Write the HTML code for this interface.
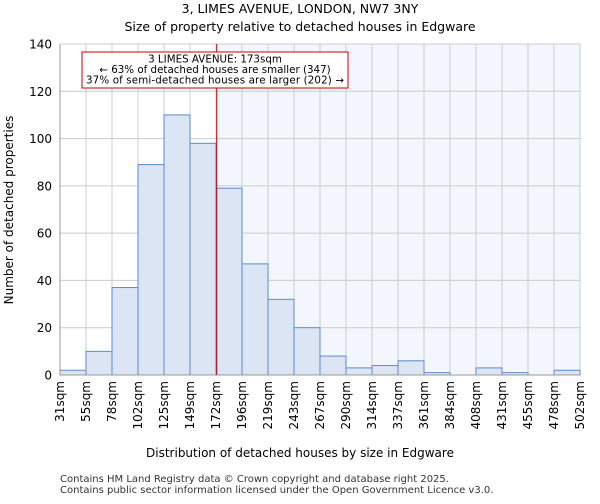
<!DOCTYPE html>
<html><head><meta charset="utf-8"><style>
body{margin:0;background:#fff;font-family:"DejaVu Sans","Liberation Sans",sans-serif}
</style></head><body>
<svg id="c" width="600" height="500" xmlns="http://www.w3.org/2000/svg" font-family="DejaVu Sans, Liberation Sans, sans-serif">
<text x="300" y="13" text-anchor="middle" font-size="12.5">3, LIMES AVENUE, LONDON, NW7 3NY</text>
<text x="300" y="31" text-anchor="middle" font-size="12.5">Size of property relative to detached houses in Edgware</text>
<g id="plot"></g>
<text x="300" y="457" text-anchor="middle" font-size="12">Distribution of detached houses by size in Edgware</text>
<text x="13" y="210" text-anchor="middle" font-size="12" transform="rotate(-90 13 210)">Number of detached properties</text>
<text x="60" y="482" font-size="10" fill="#333">Contains HM Land Registry data © Crown copyright and database right 2025.</text>
<text x="60" y="493" font-size="10" fill="#333">Contains public sector information licensed under the Open Government Licence v3.0.</text>
</svg>
<script>
const labels=["31sqm","55sqm","78sqm","102sqm","125sqm","149sqm","172sqm","196sqm","219sqm","243sqm","267sqm","290sqm","314sqm","337sqm","361sqm","384sqm","408sqm","431sqm","455sqm","478sqm","502sqm"];
const counts=[2,10,37,89,110,98,79,47,32,20,8,3,4,6,1,0,3,1,0,2];
const yTicks=[0,20,40,60,80,100,120,140];
const propertySize=173;
const binStart=31, binEnd=502;
const L=60,R=580,T=44,B=375,yMax=140;
const NS="http://www.w3.org/2000/svg";
const g=document.getElementById('plot');
const bw=(R-L)/counts.length;
const xs=i=>L+i*bw;
const ys=v=>B-(v/yMax)*(B-T);
const xv=v=>L+(v-binStart)/(binEnd-binStart)*(R-L);
function mk(t,a){const e=document.createElementNS(NS,t);for(const k in a)e.setAttribute(k,a[k]);g.appendChild(e);return e;}
const px=xv(propertySize);
let sh=mk('rect',{x:px,y:T,width:R-px,height:B-T,fill:'#f3f6fd'});


yTicks.forEach(t=>{let l=mk('line',{x1:L,x2:R,y1:ys(t),y2:ys(t),stroke:'#ccc'});


let tx=mk('text',{x:L-8,y:ys(t)+4.5,'text-anchor':'end','font-size':12});tx.textContent=t;

});
labels.forEach((s,i)=>{let l=mk('line',{x1:xs(i),x2:xs(i),y1:T,y2:B,stroke:'#ccc'});


const x=xs(i)+4;let tx=mk('text',{x:x,y:B+6,'text-anchor':'end','font-size':12,transform:`rotate(-90 ${x} ${B+6})`});tx.textContent=s;

});
counts.forEach((v,i)=>{if(v<=0)return;let r=mk('rect',{x:xs(i),y:ys(v),width:bw,height:B-ys(v),fill:'#dbe5f3',stroke:'#5b8bd0','stroke-width':1});

});
let ax=mk('path',{d:`M${L},${T}V${B}H${R}`,fill:'none',stroke:'#999'});


let pl=mk('line',{x1:px,x2:px,y1:T,y2:B,stroke:'#b00','stroke-width':1});


let bx=mk('rect',{x:82,y:52,width:266,height:36,fill:'#fff',stroke:'#c00'});


["3 LIMES AVENUE: 173sqm","← 63% of detached houses are smaller (347)","37% of semi-detached houses are larger (202) →"].forEach((s,i)=>{let t=mk('text',{x:215,y:62.5+i*10.5,'text-anchor':'middle','font-size':10.3,textLength:i==2?258:null});if(i!=2)t.removeAttribute('textLength');t.textContent=s;

});
</script>
</body></html>
